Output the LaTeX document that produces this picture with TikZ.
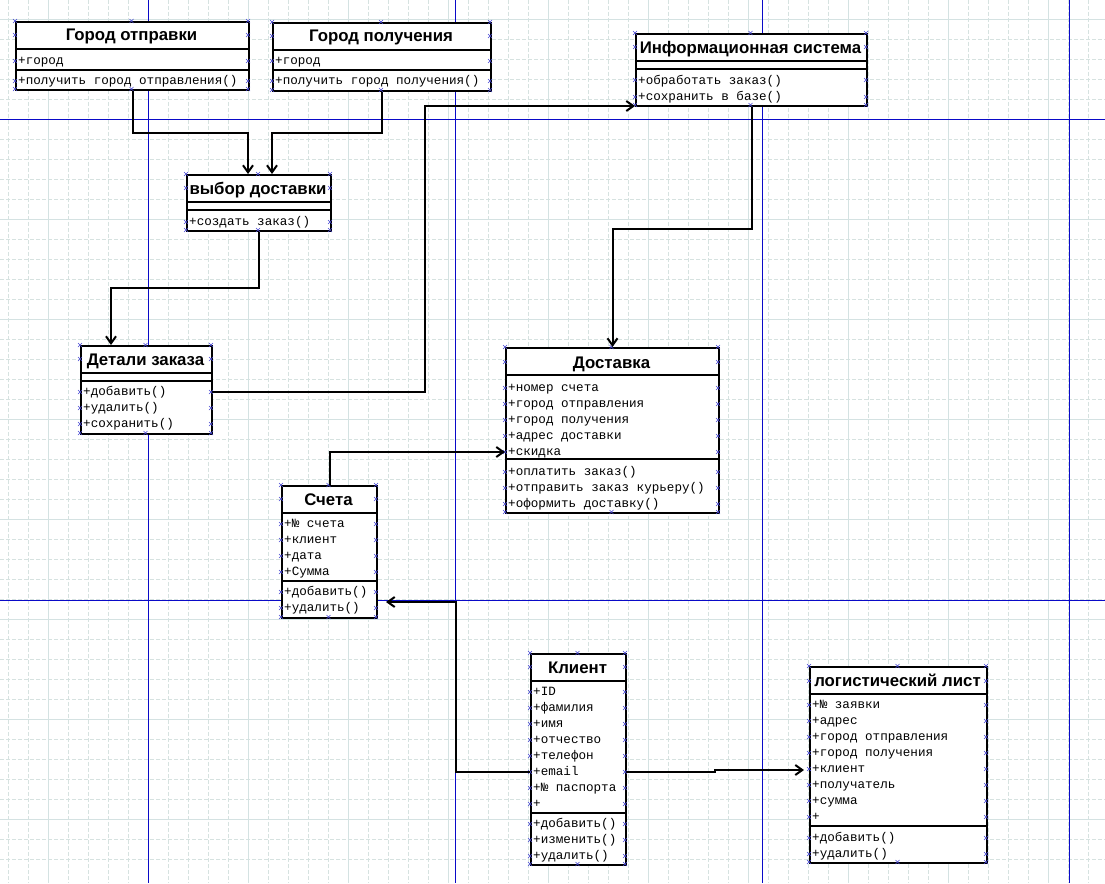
\documentclass[tikz,border=0pt]{standalone}
\usepackage{fontspec}
\setmainfont{Liberation Sans}
\newfontfamily\ttlfont{Liberation Sans}
\newfontfamily\monofont{Liberation Mono}
\usetikzlibrary{arrows.meta}
\definecolor{gminor}{RGB}{214,226,224}
\definecolor{gmajor}{RGB}{212,226,226}
\definecolor{pgblue}{RGB}{10,10,200}
\definecolor{hblue}{RGB}{70,70,210}
\tikzset{
  box/.style={draw=black, line width=2pt, fill=white, inner sep=0pt, anchor=north west},
  sepline/.style={line width=2pt},
  ttlt/.style={font=\ttlfont\bfseries\fontsize{16.8}{20}\selectfont, inner sep=0pt, anchor=base},
  mem/.style={font=\monofont\fontsize{12.6}{15}\selectfont, anchor=base west, inner sep=0pt},
  conn/.style={line width=2pt, -{Straight Barb[length=7pt,width=10pt]}},
  hnd/.style={draw=hblue, line width=0.6pt},
  gmin/.style={draw=gminor, line width=0.8pt, dash pattern=on 4pt off 2pt},
  gmaj/.style={draw=gmajor, line width=1pt},
  pgline/.style={draw=pgblue, line width=1.1pt}
}
\newcommand\hx[2]{\draw[hnd] ({#1-2},{#2-2}) -- ({#1+2},{#2+2}) ({#1-2},{#2+2}) -- ({#1+2},{#2-2});}
\newcommand\handles[5]{%
  \hx{#1}{#2}\hx{#3}{#2}\hx{#1}{#4}\hx{#3}{#4}%
  \hx{(#1+#3)/2}{#2}\hx{(#1+#3)/2}{#4}%
  \foreach \yy in {#5}{\hx{#1}{\yy}\hx{#3}{\yy}}%
}
\newcommand\mems[3]{\foreach \t [count=\i from 0] in {#3}{\node[mem] at (#1,{#2+16*\i}) {\t};}}
\begin{document}
\begin{tikzpicture}[x=1pt,y=-1pt]
\useasboundingbox (0,0) rectangle (1105,883);
\fill[white] (0,0) rectangle (1105,883);
% grid
\foreach \x in {8.5,28.5,...,1100} \draw[gmin] (\x,0) -- (\x,883);
\foreach \y in {19.5,39.5,...,879} \draw[gmin] (0,\y) -- (1105,\y);
\foreach \x in {48.5,148.5,...,1048.5} \draw[gmaj] (\x,0) -- (\x,883);
\foreach \y in {19.5,119.5,...,819.5} \draw[gmaj] (0,\y) -- (1105,\y);
\foreach \x in {148.5,455.5,762.5,1069.5} \draw[pgline] (\x,0) -- (\x,883);
\foreach \y in {119.5,600.5} \draw[pgline] (0,\y) -- (1105,\y);

% Город отправки
\node[box, minimum width=233pt, minimum height=68pt] (gotp) at (15,21) {};
\draw[sepline] (15,49) -- (248,49) (15,70) -- (248,70);
\node[ttlt] (gotpT) at (131.5,41) {Город отправки};
\mems{18}{64.5}{+город}
\mems{18}{84.5}{+получить город отправления()}
\handles{15}{21}{248}{89}{35,61,81}

% Город получения
\node[box, minimum width=218pt, minimum height=68pt] (gpol) at (272,22) {};
\draw[sepline] (272,50) -- (490,50) (272,70) -- (490,70);
\node[ttlt] (gpolT) at (381,42) {Город получения};
\mems{275}{64.5}{+город}
\mems{275}{84.5}{+получить город получения()}
\handles{272}{22}{490}{90}{36,61,81}

% выбор доставки
\node[box, minimum width=144pt, minimum height=56pt] (vybor) at (186,174) {};
\draw[sepline] (186,202) -- (330,202) (186,210) -- (330,210);
\node[ttlt] (vyborT) at (258,194) {выбор доставки};
\mems{189}{225.5}{+создать заказ()}
\handles{186}{174}{330}{230}{188,222}

% Информационная система
\node[box, minimum width=231pt, minimum height=72pt] (info) at (635,33) {};
\draw[sepline] (635,61) -- (866,61) (635,69) -- (866,69);
\node[ttlt] (infoT) at (750.5,53) {Информационная система};
\mems{638}{84.5}{+обработать заказ(),+сохранить в базе()}
\handles{635}{33}{866}{105}{47,80,97}

% Детали заказа
\node[box, minimum width=131pt, minimum height=88pt] (det) at (80,345) {};
\draw[sepline] (80,373) -- (211,373) (80,381) -- (211,381);
\node[ttlt] (detT) at (145.5,365) {Детали заказа};
\mems{83}{395.5}{+добавить(),+удалить(),+сохранить()}
\handles{80}{345}{211}{433}{359,392,408,424}

% Доставка
\node[box, minimum width=213pt, minimum height=165pt] (dost) at (505,347) {};
\draw[sepline] (505,375) -- (718,375) (505,459) -- (718,459);
\node[ttlt] (dostT) at (611.5,368) {Доставка};
\mems{508}{391.5}{+номер счета,+город отправления,+город получения,+адрес доставки,+скидка}
\mems{508}{475.5}{+оплатить заказ(),+отправить заказ курьеру(),+оформить доставку()}
\handles{505}{347}{718}{512}{362,388,404,420,436,452,472,488,504}

% Счета
\node[box, minimum width=95pt, minimum height=132pt] (sch) at (281,485) {};
\draw[sepline] (281,513) -- (376,513) (281,581) -- (376,581);
\node[ttlt] (schT) at (328.5,505) {Счета};
\mems{284}{527.5}{+№ счета,+клиент,+дата,+Сумма}
\mems{284}{595.5}{+добавить(),+удалить()}
\handles{281}{485}{376}{617}{499,524,540,556,572,592,608}

% Клиент
\node[box, minimum width=95pt, minimum height=211pt] (kl) at (530,653) {};
\draw[sepline] (530,681) -- (625,681) (530,813) -- (625,813);
\node[ttlt] (klT) at (577.5,673) {Клиент};
\mems{533}{695.5}{+ID,+фамилия,+имя,+отчество,+телефон,+email,+№ паспорта,+}
\mems{533}{827.5}{+добавить(),+изменить(),+удалить()}
\handles{530}{653}{625}{864}{667,692,708,724,740,756,772,788,804,824,840,856}

% логистический лист
\node[box, minimum width=177pt, minimum height=196pt] (logl) at (809,666) {};
\draw[sepline] (809,694) -- (986,694) (809,826) -- (986,826);
\node[ttlt] (loglT) at (897.5,686) {логистический лист};
\mems{812}{708.5}{+№ заявки,+адрес,+город отправления,+город получения,+клиент,+получатель,+сумма,+}
\mems{812}{841.5}{+добавить(),+удалить()}
\handles{809}{666}{986}{862}{681,705,721,737,753,769,785,801,817,838,854}

% connectors
\draw[conn] (gotp.south) -- ++(0,42) -| ([xshift=-11pt]vybor.north);
\draw[conn] (gpol.south) -- ++(0,41) -| ([xshift=13pt]vybor.north);
\draw[conn] (vybor.south) -- ++(0,56) -| ([xshift=-35.5pt]det.north);
\draw[conn] ([yshift=-1.5pt]det.east) -- ++(212,0) |- ([yshift=1pt]info.south west);
\draw[conn] (info.south) -- ++(0,122) -| (dost.north);
\draw[conn] (sch.north) |- ([yshift=-21.5pt]dost.west);
\draw[conn] ([yshift=-12.5pt]kl.west) -- ++(-74,0) |- ([xshift=8pt,yshift=-50pt]sch.east);
\draw[conn] ([yshift=-12.5pt]kl.east) -- ++(88,0) |- ([xshift=-5pt,yshift=-5pt]logl.west);
\end{tikzpicture}
\end{document}
